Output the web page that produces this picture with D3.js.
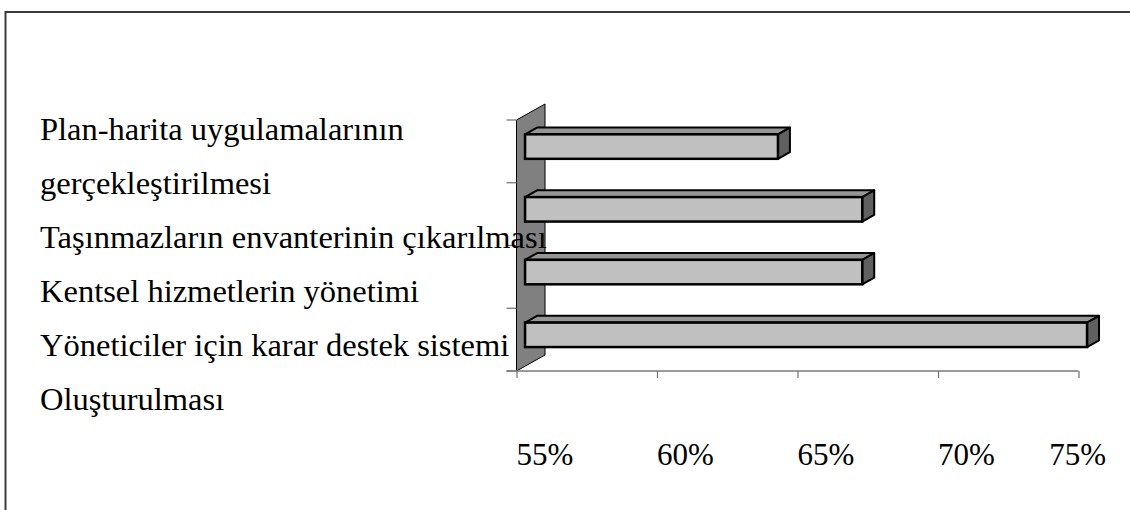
<!DOCTYPE html>
<html>
<head>
<meta charset="utf-8">
<script src="https://cdn.jsdelivr.net/npm/d3@7"></script>
<style>
  html, body { margin: 0; padding: 0; background: #fff; }
  svg { display: block; }
  text { font-family: "Liberation Serif", "Times New Roman", serif; fill: #000; }
</style>
</head>
<body>
<svg id="chart" width="1130" height="510"></svg>
<script>
// Categories (top to bottom) and their wrapped label lines
const categories = [
  "Plan-harita uygulamalarının gerçekleştirilmesi",
  "Taşınmazların envanterinin çıkarılması",
  "Kentsel hizmetlerin yönetimi",
  "Yöneticiler için karar destek sistemi Oluşturulması"
];
const labelLines = [
  ["Plan-harita uygulamalarının", "gerçekleştirilmesi"],
  ["Taşınmazların envanterinin çıkarılması"],
  ["Kentsel hizmetlerin yönetimi"],
  ["Yöneticiler için karar destek sistemi", "Oluşturulması"]
];
// Share of respondents per category
const values = [0.64, 0.67, 0.67, 0.75];
// Value axis ticks
const tickValues = [0.55, 0.60, 0.65, 0.70, 0.75];
const tickLabels = ["55%", "60%", "65%", "70%", "75%"];

const svg = d3.select("#chart");

// Outer frame
svg.append("rect")
  .attr("x", 5.5).attr("y", 12)
  .attr("width", 1140).attr("height", 520)
  .attr("fill", "none").attr("stroke", "#3a3a3a").attr("stroke-width", 2);

// Scales
const x = d3.scaleLinear().domain([0.55, 0.75]).range([516.5, 1078.5]);
const y = d3.scaleBand().domain(categories).range([120, 371]).padding(0);

// 3D depth projection: full depth of the plot, and the slab the bars occupy
const depth = { dx: 28.5, dy: -16 };
const barFront = 0.3, barBack = 0.72;
const barRatio = 0.39;

const x0 = x.range()[0], yTop = y.range()[0], yBot = y.range()[1];

// Side wall
svg.append("polygon")
  .attr("points", [
    [x0, yTop], [x0 + depth.dx, yTop + depth.dy],
    [x0 + depth.dx, yBot + depth.dy], [x0, yBot]
  ].map(p => p.join(",")).join(" "))
  .attr("fill", "#808080").attr("stroke", "#000").attr("stroke-width", 1);

// Category axis tick marks on the wall edge
const catEdges = categories.map(c => y(c)).concat([yBot]);
svg.append("g").selectAll("line").data(catEdges).join("line")
  .attr("x1", x0 - 10).attr("x2", x0)
  .attr("y1", d => d).attr("y2", d => d)
  .attr("stroke", "#6e6e6e").attr("stroke-width", 1.2);

// Value axis
const xAxis = d3.axisBottom(x).tickValues(tickValues).tickSize(7).tickFormat("");
const gx = svg.append("g").attr("transform", `translate(0,${yBot})`).call(xAxis);
gx.select(".domain").remove();
gx.selectAll(".tick line").attr("stroke", "#6e6e6e").attr("stroke-width", 1.2);
svg.append("line")
  .attr("x1", x0 - 10).attr("x2", x.range()[1])
  .attr("y1", yBot).attr("y2", yBot)
  .attr("stroke", "#7a7a7a").attr("stroke-width", 1.5);

// Bars: front face, top face and right end
const fx = depth.dx * barFront, fy = depth.dy * barFront;
const sx = depth.dx * (barBack - barFront), sy = depth.dy * (barBack - barFront);
const bars = svg.append("g").selectAll("g").data(categories).join("g");

bars.each(function (c, i) {
  const g = d3.select(this);
  const h = y.bandwidth() * barRatio;
  const yc = y(c) + y.bandwidth() / 2 + fy;
  const yt = yc - h / 2, yb = yc + h / 2;
  const xl = x(x.domain()[0]) + fx, xr = x(values[i]) + fx;
  const pts = a => a.map(p => p.join(",")).join(" ");
  g.append("polygon")
    .attr("points", pts([[xl, yt], [xl + sx, yt + sy], [xr + sx, yt + sy], [xr, yt]]))
    .attr("fill", "#969696").attr("stroke", "#000").attr("stroke-width", 2).attr("stroke-linejoin", "round");
  g.append("polygon")
    .attr("points", pts([[xr, yt], [xr + sx, yt + sy], [xr + sx, yb + sy], [xr, yb]]))
    .attr("fill", "#606060").attr("stroke", "#000").attr("stroke-width", 2).attr("stroke-linejoin", "round");
  g.append("rect")
    .attr("x", xl).attr("y", yt).attr("width", xr - xl).attr("height", h)
    .attr("fill", "#c0c0c0").attr("stroke", "#000").attr("stroke-width", 2.5);
});

// Category labels, one line per row, spread evenly down the left side
const lines = labelLines.flat();
const ly = d3.scalePoint().domain(d3.range(lines.length)).range([140, 410]);
svg.append("g").selectAll("text").data(lines).join("text")
  .attr("x", 40).attr("y", (d, i) => ly(i))
  .attr("font-size", 32.5)
  .text(d => d);

// Value tick labels, kept inside the frame
const tl = svg.append("g").selectAll("text").data(tickValues).join("text")
  .attr("x", d => x(d)).attr("y", 465)
  .attr("font-size", 31)
  .text((d, i) => tickLabels[i]);
tl.each(function () {
  const t = d3.select(this);
  const w = this.getComputedTextLength();
  const maxRight = 1106;
  if (+t.attr("x") + w > maxRight) t.attr("x", maxRight - w);
});
</script>
</body>
</html>
